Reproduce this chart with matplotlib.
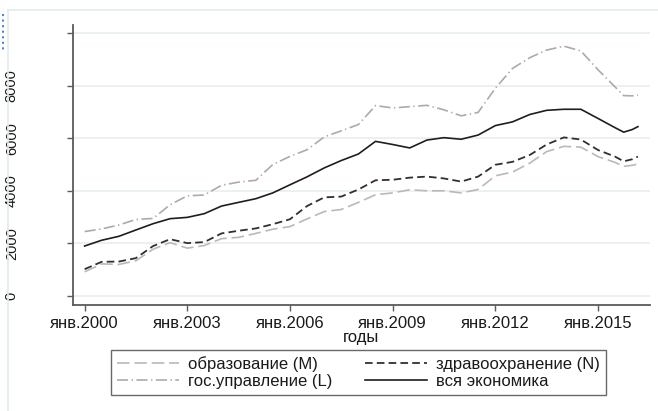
import numpy as np
import pandas as pd
import matplotlib
matplotlib.use("Agg")
import matplotlib.pyplot as plt
from matplotlib.lines import Line2D

plt.rcParams['font.family'] = ['Liberation Sans', 'DejaVu Sans']
plt.rcParams['lines.scale_dashes'] = False

# даты наблюдений (полугодия + пара точек в конце)
dates = ["2000-01", "2000-07", "2001-01", "2001-07", "2002-01", "2002-07",
         "2003-01", "2003-07", "2004-01", "2004-07", "2005-01", "2005-07",
         "2006-01", "2006-07", "2007-01", "2007-07", "2008-01", "2008-07",
         "2009-01", "2009-07", "2010-01", "2010-07", "2011-01", "2011-07",
         "2012-01", "2012-07", "2013-01", "2013-07", "2014-01", "2014-07",
         "2015-01", "2015-07", "2015-10", "2016-01", "2016-03"]

educ = [920, 1220, 1200, 1340, 1780, 2030, 1820, 1920, 2180, 2230, 2380, 2540,
        2640, 2930, 3210, 3290, 3560, 3850, 3920, 4040, 4000, 4000, 3920, 4050,
        4570, 4710, 5050, 5490, 5690, 5660, 5300, 5080, 4930, 4970, 5020]
health = [1020, 1300, 1310, 1440, 1900, 2160, 2010, 2050, 2380, 2480, 2570, 2730,
          2920, 3420, 3750, 3780, 4050, 4400, 4420, 4500, 4540, 4470, 4350, 4540,
          4990, 5100, 5360, 5760, 6030, 5950, 5550, 5300, 5120, 5200, 5300]
gov = [2450, 2550, 2700, 2910, 2950, 3470, 3810, 3840, 4210, 4330, 4400, 5000,
       5310, 5560, 6050, 6280, 6520, 7240, 7150, 7200, 7250, 7080, 6850, 6980,
       7900, 8650, 9060, 9350, 9500, 9320, 8600, 7950, 7620, 7610, 7640]
total = [1900, 2120, 2270, 2510, 2750, 2940, 2990, 3130, 3420, 3560, 3700, 3920,
         4230, 4530, 4870, 5150, 5400, 5880, 5760, 5630, 5930, 6020, 5960, 6120,
         6480, 6620, 6900, 7060, 7100, 7100, 6750, 6400, 6230, 6330, 6440]

yticks = [0, 2000, 4000, 6000, 8000, 10000]
ytick_labels = ["0", "2000", "4000", "6000", "8000", ""]
xtick_years = [2000, 2003, 2006, 2009, 2012, 2015]


def main():
    x = pd.to_datetime(dates)
    W, H = 658, 411
    fig = plt.figure(figsize=(W / 100, H / 100), dpi=100)
    fig.patch.set_facecolor("white")

    # рамка области графика (как в Stata)
    fig.add_artist(Line2D([8 / W, 8 / W], [0, 1 - 10 / H], color="#e3ebeb", lw=1.2))
    fig.add_artist(Line2D([8 / W, 1], [1 - 10 / H, 1 - 10 / H], color="#e3ebeb", lw=1.2))
    fig.add_artist(Line2D([3 / W, 3 / W], [1 - 14 / H, 1 - 50 / H], color="#2a6ad0",
                          lw=1.2, ls=(0, (1.5, 2.5))))

    ax = fig.add_axes([73 / W, 1 - 304.5 / H, (650 - 73) / W, (304.5 - 25) / H])

    ax.plot(x, educ, color="#b9b9b9", lw=1.2, dashes=(9, 3.5), label="образование (M)")
    ax.plot(x, gov, color="#ababab", lw=1.2, dashes=(8, 2.5, 1, 2.5), label="гос.управление (L)")
    ax.plot(x, health, color="#303030", lw=1.3, dashes=(5.5, 3), label="здравоохранение (N)")
    ax.plot(x, total, color="#1e1e1e", lw=1.2, label="вся экономика")

    ax.set_ylim(-323, 10304)
    ax.set_xlim(pd.Timestamp("1999-08-30"), pd.Timestamp("2016-07-08"))

    ax.set_yticks(yticks)
    ax.set_yticklabels(ytick_labels, rotation=90, va="center")
    ax.set_xticks(pd.to_datetime([f"{y}-01-01" for y in xtick_years]))
    ax.set_xticklabels([f"янв.{y}" for y in xtick_years])

    ax.grid(axis="y", color="#e8efef", lw=1.2)
    ax.set_axisbelow(True)
    for s in ["top", "right"]:
        ax.spines[s].set_visible(False)
    for s in ["left", "bottom"]:
        ax.spines[s].set_color("#5a5a5a")
        ax.spines[s].set_linewidth(1.3)

    ax.tick_params(axis="y", length=4, width=1, color="#5a5a5a", pad=35, labelsize=10.5,
                   labelcolor="#1a1a1a")
    ax.tick_params(axis="x", length=4, width=1, color="#5a5a5a", pad=4, labelsize=12,
                   labelcolor="#1a1a1a")

    ax.set_xlabel("годы", fontsize=12, color="#1a1a1a")
    ax.xaxis.set_label_coords(0.5, -0.09)

    leg = fig.legend(loc="upper left", bbox_to_anchor=(111 / W, 1 - 350 / H),
                     ncol=2, fontsize=12, frameon=True, fancybox=False,
                     handlelength=3.7, handletextpad=0.55, columnspacing=2.0,
                     labelspacing=0.15, borderpad=0.35, borderaxespad=0)
    leg.get_frame().set_edgecolor("#444444")
    leg.get_frame().set_linewidth(1.0)
    for t in leg.get_texts():
        t.set_color("#1a1a1a")

    fig.savefig("out.png", dpi=100, facecolor="white")


if __name__ == "__main__":
    main()
